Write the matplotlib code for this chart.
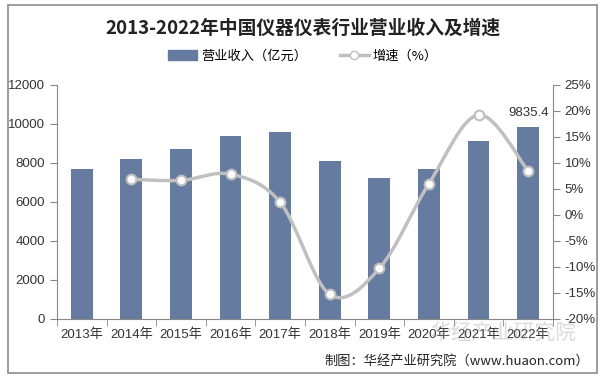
import matplotlib.pyplot as plt
from matplotlib.path import Path
from matplotlib.patches import PathPatch, Rectangle
from matplotlib.lines import Line2D
import numpy as np

plt.rcParams['font.family'] = ['Liberation Sans', 'Noto Sans CJK SC']

years = ['2013年', '2014年', '2015年', '2016年', '2017年', '2018年', '2019年', '2020年', '2021年', '2022年']
revenue = [7660, 8180, 8690, 9350, 9550, 8070, 7240, 7660, 9100, 9835.4]
growth_years = years[1:]
growth = [6.8, 6.6, 7.8, 2.4, -15.3, -10.3, 6.0, 19.2, 8.4]

bar_color = '#667ba0'
line_color = '#c0c0c0'

fig = plt.figure(figsize=(6.06, 3.81), dpi=100)
fig.patches.append(Rectangle((0.013, 0.02), 0.972, 0.967, transform=fig.transFigure,
                             fill=False, edgecolor='#8c8c8c', linewidth=1.2))

ax = fig.add_axes([0.094, 0.163, 0.8185, 0.615])
x = np.arange(len(years))
ax.bar(x, revenue, width=0.44, color=bar_color, zorder=2)
ax.set_xlim(-0.5, len(years) - 0.5)
ax.set_ylim(0, 12000)
ax.set_yticks(range(0, 12001, 2000))
ax.set_xticks(x)
ax.set_xticklabels(years, fontsize=9.5, color='#333333')
ax.set_xticks(np.arange(-0.5, len(years)), minor=True)
ax.tick_params(axis='x', which='major', length=0, pad=7)
ax.tick_params(axis='x', which='minor', length=5, color='#888888', direction='out')
ax.tick_params(axis='y', labelsize=9.5, labelcolor='#333333', length=5, color='#888888')
for s in ['top', 'right']:
    ax.spines[s].set_visible(False)
for s in ['left', 'bottom']:
    ax.spines[s].set_color('#888888')

ax.annotate(f'{revenue[-1]}', (x[-1], revenue[-1]), xytext=(0, 6), textcoords='offset points',
            ha='center', va='bottom', fontsize=9.5, color='#333333')

ax2 = ax.twinx()
ax2.set_ylim(-20, 25)
ax2.set_yticks(range(-20, 26, 5))
ax2.set_yticklabels([f'{v}%' for v in range(-20, 26, 5)])
ax2.tick_params(axis='y', labelsize=9.5, labelcolor='#333333', length=5, color='#888888')
for s in ['top', 'left', 'bottom']:
    ax2.spines[s].set_visible(False)
ax2.spines['right'].set_color('#888888')

# smoothed line (bezier through the points, like a spreadsheet smooth line)
gx = np.array([years.index(y) for y in growth_years], dtype=float)
gy = np.array(growth, dtype=float)
pts = np.column_stack([gx, gy])
ext = np.vstack([pts[0], pts, pts[-1]])
verts = [tuple(pts[0])]
codes = [Path.MOVETO]
for i in range(len(pts) - 1):
    p0, p1, p2, p3 = ext[i], ext[i + 1], ext[i + 2], ext[i + 3]
    c1 = p1 + (p2 - p0) / 6
    c2 = p2 - (p3 - p1) / 6
    verts += [tuple(c1), tuple(c2), tuple(p2)]
    codes += [Path.CURVE4] * 3
ax2.add_patch(PathPatch(Path(verts, codes), fill=False, edgecolor=line_color, linewidth=2.5, zorder=3))
ax2.plot(gx, gy, linestyle='none', marker='o', markersize=7, markerfacecolor='white',
         markeredgecolor=line_color, markeredgewidth=1.5, zorder=4)

fig.text(0.5, 0.925, '2013-2022年中国仪器仪表行业营业收入及增速', ha='center', va='center',
         fontsize=13.5, fontweight='bold', color='#222222', family=['Noto Sans CJK SC'])

handles = [Rectangle((0, 0), 1, 1, color=bar_color),
           Line2D([], [], color=line_color, linewidth=2.5, marker='o', markersize=6,
                  markerfacecolor='white', markeredgecolor=line_color)]
fig.legend(handles, ['营业收入（亿元）', '增速（%）'], loc='center', bbox_to_anchor=(0.5, 0.853),
           ncol=2, frameon=False, fontsize=9.5, handlelength=2.2, columnspacing=2.5,
           handletextpad=0.3, prop={'family': ['Noto Sans CJK SC'], 'size': 9.5})

fig.text(0.83, 0.125, '华经产业研究院', ha='center', va='center', fontsize=15,
         color='#999999', alpha=0.35, family=['Noto Sans CJK SC'])
fig.text(0.972, 0.052, '制图：华经产业研究院（www.huaon.com）', ha='right', va='center',
         fontsize=9.5, color='#222222', family=['Noto Sans CJK SC'])

fig.savefig('out.png', dpi=100)
